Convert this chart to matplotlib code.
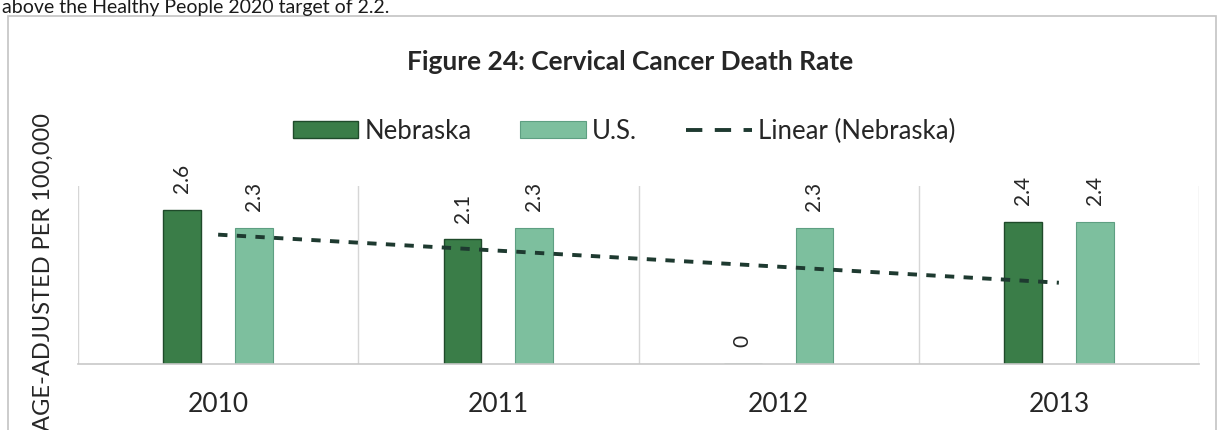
import numpy as np
import matplotlib
matplotlib.use("Agg")
import matplotlib.pyplot as plt
from matplotlib.patches import Patch, Rectangle
from matplotlib.lines import Line2D

plt.rcParams["font.family"] = ["Lato", "DejaVu Sans"]

# Data
years = ["2010", "2011", "2012", "2013"]
nebraska = [2.6, 2.1, 0, 2.4]
us = [2.3, 2.3, 2.3, 2.4]
series_names = ["Nebraska", "U.S.", "Linear (Nebraska)"]
title = "Figure 24: Cervical Cancer Death Rate"
ylabel = "AGE-ADJUSTED PER 100,000"
lead_text = "above the Healthy People 2020 target of 2.2."

NEB_COLOR = "#3a7d48"
NEB_EDGE = "#1f4a2a"
US_COLOR = "#7dbf9e"
US_EDGE = "#5e9f82"
TREND_COLOR = "#1e3a30"
GRID_COLOR = "#d6d6d6"
TEXT_COLOR = "#262626"

W, H = 1221, 430
fig = plt.figure(figsize=(W / 100, H / 100), dpi=100)
fig.patch.set_facecolor("white")

# Surrounding chart frame
fig.patches.append(Rectangle((8 / W, -0.05), (1216 - 8) / W, 1.05 - 16 / H,
                             transform=fig.transFigure, fill=False,
                             edgecolor="#c4c4c4", linewidth=1.2))

# Running text above the chart frame
fig.text(2 / W, 1 - 13 / H, lead_text, ha="left", va="baseline",
         fontsize=14, color="#1a1a1a")

left, right, top, bottom = 78, 1199, 186, 364
ax = fig.add_axes([left / W, 1 - bottom / H, (right - left) / W, (bottom - top) / H])

x = np.arange(len(years))
bw = 0.135
off = 0.128
ax.bar(x - off, nebraska, bw, color=NEB_COLOR, edgecolor=NEB_EDGE, linewidth=1.0, zorder=2)
ax.bar(x + off, us, bw, color=US_COLOR, edgecolor=US_EDGE, linewidth=0.8, zorder=2)

# Linear trendline fitted to the Nebraska series
slope, intercept = np.polyfit(x, nebraska, 1)
ax.plot(x, slope * x + intercept, color=TREND_COLOR, linewidth=2.8,
        linestyle=(0, (2.4, 2.4)), zorder=3, solid_capstyle="butt",
        dash_capstyle="butt")

# Value labels
for xs, vals in ((x - off, nebraska), (x + off, us)):
    for xi, v in zip(xs, vals):
        ax.annotate(f"{v:g}", xy=(xi, v), xytext=(0, 12), textcoords="offset points",
                    rotation=90, ha="center", va="bottom", fontsize=15,
                    color=TEXT_COLOR, annotation_clip=False)

ax.set_xlim(-0.5, len(years) - 0.5)
ax.set_ylim(0, 3)
ax.set_xticks(x)
ax.set_xticklabels(years, fontsize=19, color=TEXT_COLOR)
ax.tick_params(axis="x", length=0, pad=20)
ax.set_yticks([])
ax.set_xticks(np.arange(-0.5, len(years)), minor=True)
ax.tick_params(axis="x", which="minor", length=0)
ax.grid(axis="x", which="minor", color=GRID_COLOR, linewidth=1.0, zorder=0)
for s in ("top", "left", "right"):
    ax.spines[s].set_visible(False)
ax.spines["bottom"].set_color("#c8c8c8")
ax.spines["bottom"].set_linewidth(1.2)

# Title
fig.text(630 / W, 1 - 62 / H, title, ha="center", va="center",
         fontsize=19, fontweight="bold", color=TEXT_COLOR)

# Y-axis title
fig.text(43 / W, 1 - 113 / H, ylabel, rotation=90, ha="center", va="top",
         fontsize=17, color=TEXT_COLOR)

# Legend
handles = [
    Patch(facecolor=NEB_COLOR, edgecolor=NEB_EDGE, linewidth=1.0),
    Patch(facecolor=US_COLOR, edgecolor=US_EDGE, linewidth=0.8),
    Line2D([0], [0], color=TREND_COLOR, linewidth=2.8, linestyle=(0, (4.2, 3.2))),
]
fig.legend(handles, series_names, loc="center", bbox_to_anchor=(624 / W, 1 - 131 / H),
           ncol=3, frameon=False, fontsize=18.5, handlelength=2.55, handleheight=0.65,
           handletextpad=0.25, columnspacing=1.9, labelcolor=TEXT_COLOR)

fig.savefig("out.png", dpi=100, facecolor="white")
